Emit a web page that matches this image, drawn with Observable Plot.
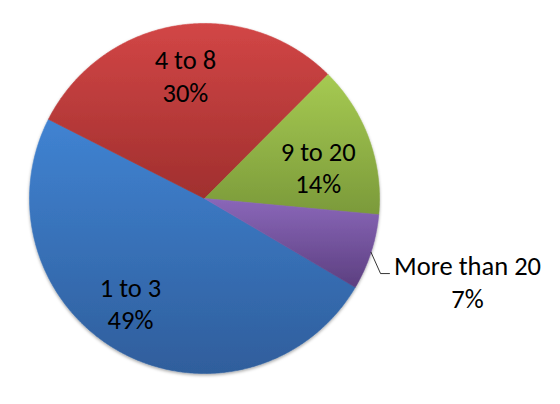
<!DOCTYPE html>
<html><head><meta charset="utf-8">
<script src="https://cdn.jsdelivr.net/npm/d3@7"></script>
<script src="https://cdn.jsdelivr.net/npm/@observablehq/plot@0.6"></script>
<style>html,body{margin:0;padding:0;background:#fff}</style>
</head><body><div id="chart"></div>
<script>
// ---- data ----
const categories = ["1 to 3", "4 to 8", "9 to 20", "More than 20"];
const values = [49, 30, 14, 7];
const percentLabels = ["49%", "30%", "14%", "7%"];
const colorsTop = ["#4083d2", "#d24646", "#a6ca52", "#8a67b9"];
const colorsBottom = ["#2f5e9c", "#a02f2e", "#7b9a3a", "#5c3f80"];

// ---- layout ----
const W = 560, H = 404, cx = 204, cy = 198, R = 175;
const firstSliceAngle = 120.5; // degrees, clockwise from 12 o'clock
const deg = Math.PI / 180;
// label placement: [angle nudge (deg), radius fraction] for inside labels
const labelPlace = [[6.7, 0.73], [0.3, 0.715], [4.2, 0.675], null];
const outsideLabel = {x: 1.503, y: -0.471, elbow: [1.006, -0.429], end: [1.057, -0.429]};

const arcs = d3.pie().sort(null)
  .startAngle(firstSliceAngle * deg)
  .endAngle(firstSliceAngle * deg + 2 * Math.PI)(values);

const slicePts = [];
arcs.forEach((a, i) => {
  slicePts.push({i, x: 0, y: 0});
  const n = Math.max(2, Math.ceil((a.endAngle - a.startAngle) / (0.4 * deg)));
  for (let k = 0; k <= n; k++) {
    const t = a.startAngle + (a.endAngle - a.startAngle) * k / n;
    slicePts.push({i, x: Math.sin(t), y: Math.cos(t)});
  }
  slicePts.push({i, x: 0, y: 0});
});

const labels = [];
const leader = [];
arcs.forEach((a, i) => {
  const mid = (a.startAngle + a.endAngle) / 2;
  const text = categories[i] + "\n" + percentLabels[i];
  if (labelPlace[i]) {
    const [dA, k] = labelPlace[i];
    const t = mid + dA * deg;
    labels.push({x: k * Math.sin(t), y: k * Math.cos(t), text});
  } else {
    labels.push({x: outsideLabel.x, y: outsideLabel.y, text});
    leader.push({x: Math.sin(mid), y: Math.cos(mid)});
    leader.push({x: outsideLabel.elbow[0], y: outsideLabel.elbow[1]});
    leader.push({x: outsideLabel.end[0], y: outsideLabel.end[1]});
  }
});

const chart = Plot.plot({
  width: W, height: H, margin: 0,
  x: {domain: [-1, 1], range: [cx - R, cx + R], axis: null},
  y: {domain: [-1, 1], range: [cy + R, cy - R], axis: null},
  color: {type: "identity"},
  style: {fontFamily: "Carlito, Calibri, Lato, sans-serif", background: "#fff"},
  marks: [
    Plot.line(slicePts, {x: "x", y: "y", z: "i", curve: "linear",
      fill: d => `url(#g${d.i})`, stroke: d => `url(#g${d.i})`, strokeWidth: 0.6}),
    Plot.line(leader, {x: "x", y: "y", stroke: "#000", strokeWidth: 0.8, curve: "linear"}),
    Plot.text(labels, {x: "x", y: "y", text: "text", fontSize: 26.5, lineHeight: 1.23,
      fill: "#000", textAnchor: "middle"})
  ]
});

const svg = d3.select(chart);
const defs = svg.insert("defs", ":first-child");
colorsTop.forEach((c, i) => {
  const g = defs.append("linearGradient").attr("id", "g" + i)
    .attr("x1", 0).attr("y1", 0).attr("x2", 0).attr("y2", 1);
  g.append("stop").attr("offset", "0%").attr("stop-color", c);
  g.append("stop").attr("offset", "100%").attr("stop-color", colorsBottom[i]);
});
const f = defs.append("filter").attr("id", "shadow")
  .attr("x", "-10%").attr("y", "-10%").attr("width", "120%").attr("height", "120%");
f.append("feDropShadow").attr("dx", 0).attr("dy", 1.5).attr("stdDeviation", 1.6)
  .attr("flood-color", "#000").attr("flood-opacity", 0.35);
svg.select("g[aria-label=line]").attr("filter", "url(#shadow)");

document.getElementById("chart").appendChild(chart);
</script>
</body></html>
